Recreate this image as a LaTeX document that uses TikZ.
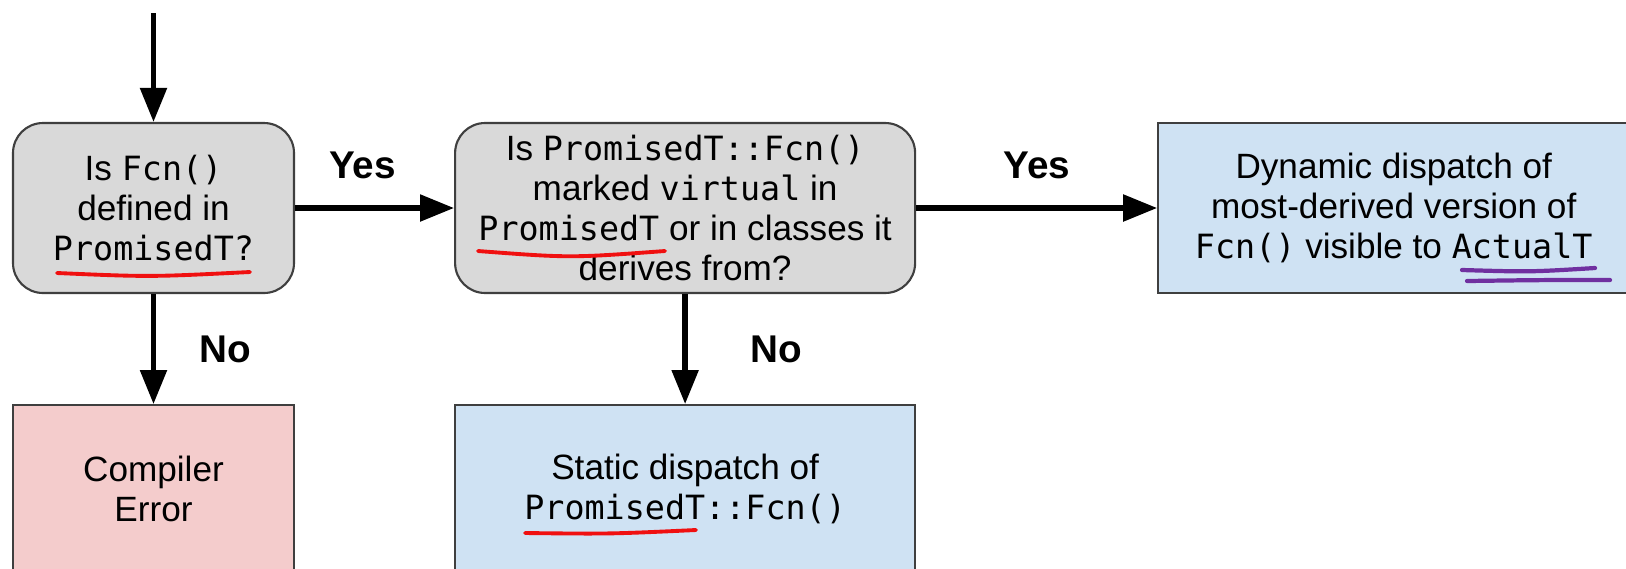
\documentclass[tikz,border=0pt]{standalone}
\usepackage{fontspec}
\setmainfont{Liberation Sans}
\newfontfamily\codefont{DejaVu Sans Mono}[Scale=0.95]
\newcommand{\cf}[1]{{\codefont #1}}
\usetikzlibrary{positioning,arrows.meta}

\definecolor{boxgray}{HTML}{D9D9D9}
\definecolor{boxblue}{HTML}{CFE2F3}
\definecolor{boxpink}{HTML}{F4CCCC}
\definecolor{boxedge}{HTML}{3F3F3F}
\definecolor{inkred}{HTML}{F01010}
\definecolor{inkpurple}{HTML}{7030A0}

\begin{document}
\begin{tikzpicture}[
    box/.style={rectangle, draw=boxedge, line width=0.6pt, inner sep=0pt, align=center,
      font=\fontsize{10}{11.4}\selectfont},
    question/.style={box, fill=boxgray, rounded corners=0.3cm, minimum height=1.70cm},
    result/.style={box, fill=boxblue, minimum height=1.70cm},
    flow/.style={-{Triangle[length=0.34cm,width=0.26cm]}, line width=1.5pt},
    answer/.style={inner sep=0pt, font=\fontsize{11}{13}\selectfont\bfseries},
    underred/.style={draw=inkred, line width=1.1pt, line cap=round},
    underpurple/.style={draw=inkpurple, line width=1.2pt, line cap=round}
  ]
  \useasboundingbox (0,0) rectangle (16.26,-5.68);

  % Questions
  \node[question, minimum width=2.81cm] (qdef) at (1.535,-2.08)
    {Is \cf{Fcn()}\\defined in\\\cf{PromisedT?}};
  \node[question, minimum width=4.60cm, right=1.59cm of qdef] (qvirt)
    {Is \cf{PromisedT::Fcn()}\\marked \cf{virtual} in\\\cf{PromisedT} or in classes it\\derives from?};

  % Outcomes
  \node[result, minimum width=4.71cm, right=2.41cm of qvirt] (dynamic)
    {Dynamic dispatch of\\most-derived version of\\\cf{Fcn()} visible to \cf{ActualT}};
  \node[box, fill=boxpink, minimum width=2.81cm, minimum height=1.90cm, below=1.10cm of qdef,
    anchor=north] (error) {};
  \node (errortxt) at ([yshift=-0.85cm]error.north) [align=center,
    font=\fontsize{10}{11.4}\selectfont] {Compiler\\Error};
  \node[result, minimum width=4.60cm, minimum height=1.90cm, below=1.10cm of qvirt,
    anchor=north] (static) {};
  \node (statictxt) at ([yshift=-0.85cm]static.north) [align=center,
    font=\fontsize{10}{11.4}\selectfont] {Static dispatch of\\\cf{PromisedT::Fcn()}};

  % Arrows
  \coordinate (entry) at (1.535,-0.13);
  \draw[flow] (entry) -- (qdef);
  \draw[flow] (qdef) -- node[answer, above=0.26cm, xshift=-0.12cm] {Yes} (qvirt);
  \draw[flow] (qvirt) -- node[answer, above=0.26cm] {Yes} (dynamic);
  \draw[flow] (qdef) -- node[answer, right=0.43cm] {No} (error);
  \draw[flow] (qvirt) -- node[answer, right=0.63cm] {No} (static);

  % Hand-drawn underlines
  \draw[underred] (0.57,-2.73) .. controls (1.5,-2.77) .. (2.50,-2.72);
  \draw[underred] (4.78,-2.51) .. controls (5.7,-2.58) .. (6.65,-2.51);
  \draw[underred] (5.25,-5.33) .. controls (6.1,-5.34) .. (6.96,-5.30);
  \draw[underpurple] (14.62,-2.70) .. controls (15.3,-2.72) .. (15.95,-2.68);
  \draw[underpurple] (14.67,-2.81) .. controls (15.4,-2.80) .. (16.10,-2.80);
\end{tikzpicture}
\end{document}
